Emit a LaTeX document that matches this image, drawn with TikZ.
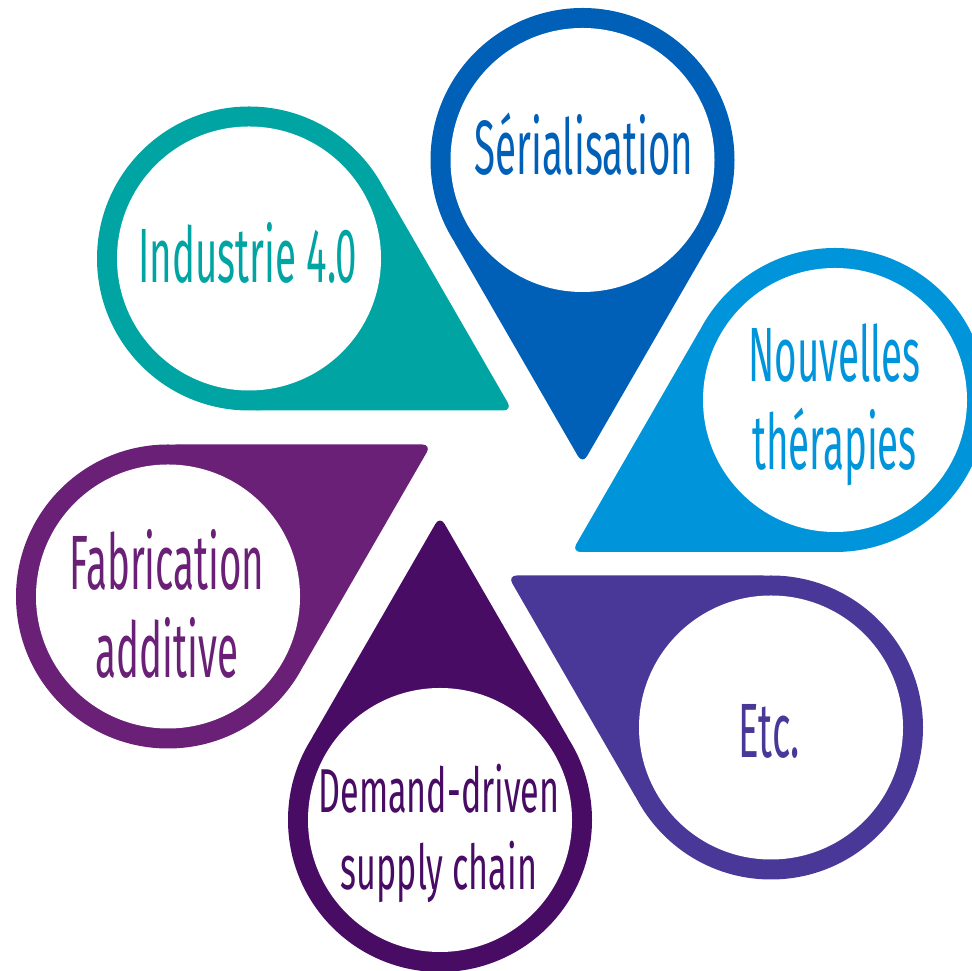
\documentclass[tikz,border=0pt]{standalone}
\usepackage{fontspec}
\setmainfont{Fira Sans}[FakeStretch=0.5]
\newfontfamily\demfont{Fira Sans}[FakeStretch=0.55]
\usetikzlibrary{calc}

\definecolor{serblue}{HTML}{0060B8}
\definecolor{nouvblue}{HTML}{0094DA}
\definecolor{indteal}{HTML}{00A5A3}
\definecolor{etcviolet}{HTML}{4A3898}
\definecolor{dempurple}{HTML}{480C64}
\definecolor{fabpurple}{HTML}{6A2076}

\tikzset{
    outerdisc/.style={
        circle,
        inner sep=0pt, outer sep=0pt,
        minimum size=304pt
    },
    innerdisc/.style={
        circle,
        fill=white,
        inner sep=0pt, outer sep=0pt,
        minimum size=264pt
    },
    tip/.style={rounded corners=9pt},
    pinlabel/.style={
        inner sep=0pt,
        align=center,
        anchor=base
    },
    bigtext/.style={font=\fontsize{77}{88}\selectfont},
    smalltext/.style={font=\demfont\fontsize{62}{77}\selectfont}
}

\begin{document}
\begin{tikzpicture}[x=1pt,y=1pt]
    \useasboundingbox (0,0) rectangle (972,971);
    \clip (0,0) rectangle (972,971);

    % -- Serialisation (tip down) -- %
    \node[outerdisc, fill=serblue] (ser) at (582.5,811) {};
    \fill[serblue, tip] (ser.-30) -- ($(ser.center)+(-90:304)$) -- (ser.-150) -- cycle;
    \node[innerdisc] (ser-in) at (ser.center) {};
    \node[pinlabel, bigtext, text=serblue] (ser-label) at (584,796) {Sérialisation};

    % -- Nouvelles therapies (tip left) -- %
    \node[outerdisc, fill=nouvblue] (nouv) at (835,571) {};
    \fill[nouvblue, tip] (nouv.150) -- ($(nouv.center)+(210:304)$) -- (nouv.270) -- cycle;
    \node[innerdisc] (nouv-in) at (nouv.center) {};
    \node[pinlabel, bigtext, text=nouvblue] (nouv-label) at (834.5,501) {Nouvelles\\thérapies};

    % -- Etc (tip up left) -- %
    \node[outerdisc, fill=etcviolet] (etc) at (771,243.5) {};
    \fill[etcviolet, tip] (etc.90) -- ($(etc.center)+(150:304)$) -- (etc.210) -- cycle;
    \node[innerdisc] (etc-in) at (etc.center) {};
    \node[pinlabel, bigtext, text=etcviolet] (etc-label) at (769.5,213) {Etc.};

    % -- Demand-driven supply chain (tip up) -- %
    \node[outerdisc, fill=dempurple] (dem) at (440,151) {};
    \fill[dempurple, tip] (dem.30) -- ($(dem.center)+(90:304)$) -- (dem.150) -- cycle;
    \node[innerdisc] (dem-in) at (dem.center) {};
    \node[pinlabel, smalltext, text=dempurple] (dem-label) at (439,81) {Demand-driven\\supply chain};

    % -- Fabrication additive (tip up right) -- %
    \node[outerdisc, fill=fabpurple] (fab) at (168,374.5) {};
    \fill[fabpurple, tip] (fab.-30) -- ($(fab.center)+(30:304)$) -- (fab.90) -- cycle;
    \node[innerdisc] (fab-in) at (fab.center) {};
    \node[pinlabel, bigtext, text=fabpurple] (fab-label) at (167,293) {Fabrication\\additive};

    % -- Industrie 4.0 (tip down right) -- %
    \node[outerdisc, fill=indteal] (ind) at (249,712.5) {};
    \fill[indteal, tip] (ind.30) -- ($(ind.center)+(-30:304)$) -- (ind.-90) -- cycle;
    \node[innerdisc] (ind-in) at (ind.center) {};
    \node[pinlabel, bigtext, text=indteal] (ind-label) at (248,688) {Industrie 4.0};
\end{tikzpicture}
\end{document}
